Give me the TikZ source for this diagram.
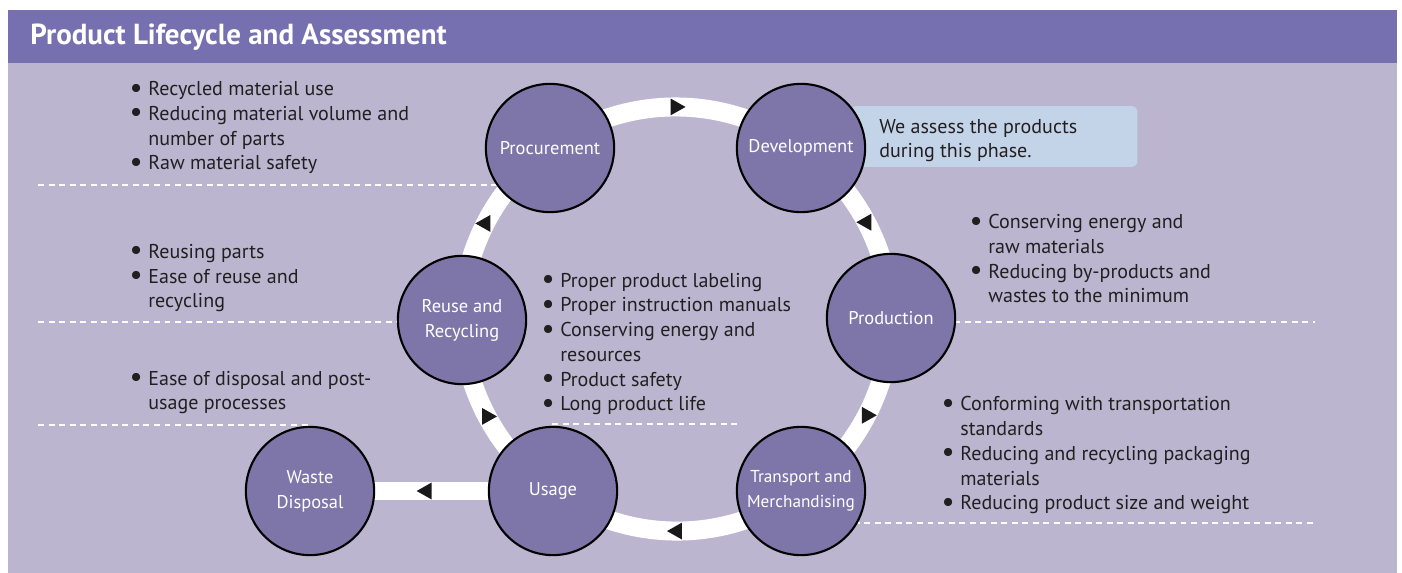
\documentclass[tikz,border=0pt]{standalone}
\usepackage{fontspec}
\setmainfont{PT Sans}
\usetikzlibrary{shapes.geometric}

\definecolor{headpurple}{RGB}{118,112,176}
\definecolor{panelpurple}{RGB}{187,181,208}
\definecolor{stagepurple}{RGB}{126,118,168}
\definecolor{notefill}{RGB}{196,212,232}
\definecolor{inktext}{RGB}{35,31,32}

\pgfdeclarelayer{back}
\pgfdeclarelayer{band}
\pgfsetlayers{back,band,main}

\tikzset{
  stage/.style={circle, draw=black, line width=1.2pt, fill=stagepurple,
    minimum size=73pt, inner sep=0pt, text=white, align=center,
    font=\fontsize{10.5}{14.2}\selectfont},
  ringband/.style={draw=white, line width=10.8pt},
  flowtip/.style={isosceles triangle, isosceles triangle stretches,
    fill=black!90, draw=none, minimum height=8.5pt, minimum width=9.6pt,
    inner sep=0pt},
  % anchored at the baseline of the last line
  bullets/.style={anchor=base west, align=left, inner sep=0pt, text=inktext,
    font=\fontsize{11.4}{14.1}\selectfont},
  divider/.style={draw=white, line width=1.1pt, dash pattern=on 3.4pt off 2.6pt},
  notebox/.style={fill=notefill, rounded corners=3.4pt, inner sep=0pt,
    minimum width=163.3pt, minimum height=34.6pt},
}
\newcommand{\itm}{\llap{\raisebox{-0.8pt}{\scalebox{1.45}{\textbullet}}\hspace{3.2pt}}}

\begin{document}
\begin{tikzpicture}[x=0.02cm, y=-0.02cm]
    \useasboundingbox (0,0) rectangle (1402,573);

    % panel and title bar
    \begin{pgfonlayer}{back}
    \fill[white] (0,0) rectangle (1402,573);
    \fill[panelpurple] (8,63) rectangle (1397,573);
    \fill[headpurple] (8,10) rectangle (1397,63);

    % dashed separators between the notes
    \draw[divider] (38,185) -- (550,185);
    \draw[divider] (38,322) -- (462,322);
    \draw[divider] (38,425) -- (310,425);
    \draw[divider] (552,424) -- (737,424);
    \draw[divider] (891,322) -- (1315,322);
    \draw[divider] (801,523) -- (1315,523);
    \end{pgfonlayer}

    \node[anchor=base west, inner sep=0pt, text=white,
      font=\bfseries\fontsize{16.5}{19}\selectfont] (title) at (30,45)
      {Product Lifecycle and Assessment};

    % the stages
    \node[stage] (proc) at (550,148) {Procurement};
    \node[stage] (dev) at (801,148) {Development};
    \node[stage] (prod) at (891,318) {Production};
    \node[stage, font=\fontsize{9.8}{14.2}\selectfont] (trans) at (801,491)
      {Transport and\\Merchandising};
    \node[stage] (usage) at (553,491) {Usage};
    \node[stage] (reuse) at (462,320) {Reuse and\\Recycling};
    \node[stage] (waste) at (310,491) {Waste\\Disposal};

    % the cycle, behind the stages
    \begin{pgfonlayer}{band}
    \node[notebox] (note) at (994,136.5) {};
    \draw[ringband] (proc.center) to[bend left=36.5, looseness=0.94]
      node[flowtip] {} (dev.center);
    \draw[ringband] (dev.center) to[bend left=27, looseness=0.9]
      node[flowtip, rotate=180] {} (prod.center);
    \draw[ringband] (prod.center) to[bend left=27, looseness=0.9]
      node[flowtip] {} (trans.center);
    \draw[ringband] (trans.center) to[bend left=36, looseness=0.94]
      node[flowtip, rotate=180] {} (usage.center);
    \draw[ringband] (usage.center) to[bend left=27, looseness=0.9]
      node[flowtip] {} (reuse.center);
    \draw[ringband] (reuse.center) to[bend left=27, looseness=0.9]
      node[flowtip, rotate=180] {} (proc.center);
    \draw[ringband] (usage.center) -- node[flowtip, pos=0.52, rotate=180] {}
      (waste.center);
    \end{pgfonlayer}

    \node[bullets] (noteText) at (879,158)
      {We assess the products\\during this phase.};

    % what is looked at in each phase
    \node[bullets] (procNotes) at (148,170)
      {\itm Recycled material use\\\itm Reducing material volume and\\number of parts\\\itm Raw material safety};
    \node[bullets] (reuseNotes) at (148,308)
      {\itm Reusing parts\\\itm Ease of reuse and\\recycling};
    \node[bullets] (wasteNotes) at (148,410)
      {\itm Ease of disposal and post-\\usage processes};
    \node[bullets] (usageNotes) at (560,411)
      {\itm Proper product labeling\\\itm Proper instruction manuals\\\itm Conserving energy and\\resources\\\itm Product safety\\\itm Long product life};
    \node[bullets] (prodNotes) at (988,303)
      {\itm Conserving energy and\\raw materials\\\itm Reducing by-products and\\wastes to the minimum};
    \node[bullets] (transNotes) at (960,510)
      {\itm Conforming with transportation\\standards\\\itm Reducing and recycling packaging\\materials\\\itm Reducing product size and weight};
\end{tikzpicture}
\end{document}
